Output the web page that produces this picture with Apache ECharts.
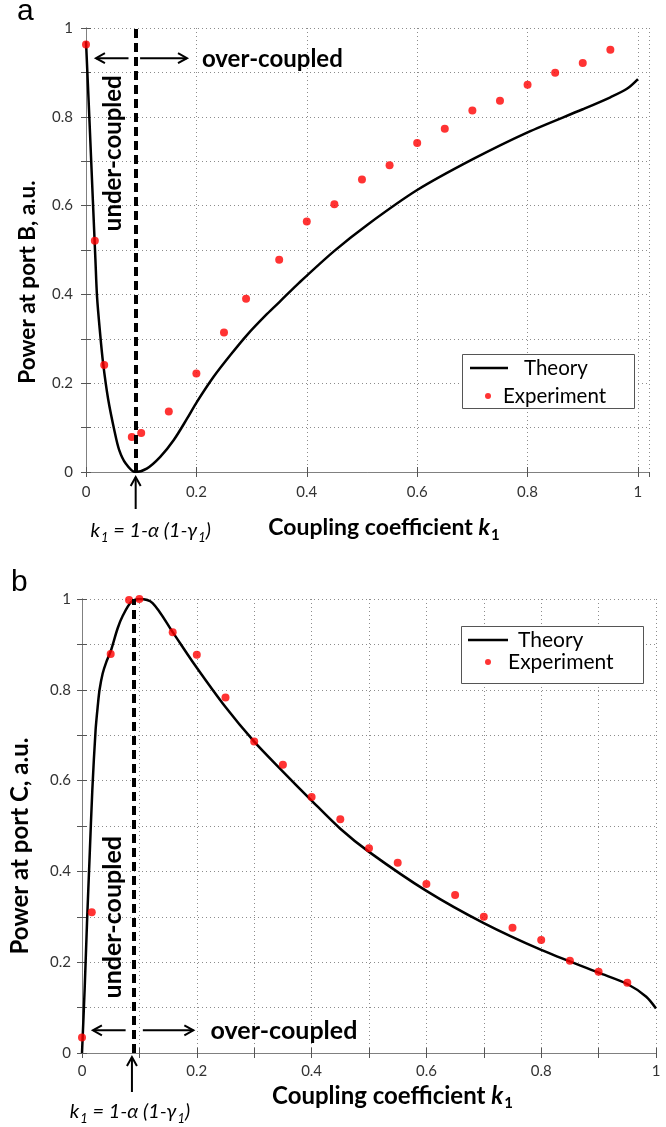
<!DOCTYPE html>
<html>
<head>
<meta charset="utf-8">
<script src="https://cdn.jsdelivr.net/npm/echarts@6/dist/echarts.min.js"></script>
<style>
  html, body { margin: 0; padding: 0; background: #fff; }
  #chart { width: 666px; height: 1127px; }
</style>
</head>
<body>
<div id="chart"></div>
<script>
// panel a: power at port B
const kTheoryA = [0, 0.006, 0.0125, 0.017, 0.02, 0.025, 0.031, 0.04, 0.052, 0.06, 0.072, 0.089, 0.11, 0.1345, 0.159, 0.183, 0.201, 0.2315, 0.262, 0.292, 0.328, 0.353, 0.386, 0.45, 0.51, 0.6, 0.7, 0.8, 0.9, 0.95, 0.98, 1]
const pTheoryA = [0.97, 0.8, 0.61, 0.48, 0.395, 0.32, 0.245, 0.165, 0.09, 0.05, 0.019, 0, 0.0075, 0.034, 0.072, 0.12, 0.158, 0.215, 0.264, 0.309, 0.356, 0.386, 0.426, 0.498, 0.557, 0.635, 0.704, 0.765, 0.817, 0.844, 0.863, 0.885]
const kExpA = [0, 0.016, 0.033, 0.083, 0.1, 0.15, 0.2, 0.25, 0.29, 0.35, 0.4, 0.45, 0.5, 0.55, 0.6, 0.65, 0.7, 0.75, 0.8, 0.85, 0.9, 0.95]
const pExpA = [0.963, 0.521, 0.241, 0.079, 0.088, 0.136, 0.222, 0.314, 0.39, 0.478, 0.564, 0.603, 0.659, 0.691, 0.741, 0.773, 0.814, 0.836, 0.872, 0.899, 0.921, 0.951]

// panel b: power at port C
const kTheoryB = [0, 0.0046, 0.0087, 0.0133, 0.018, 0.0237, 0.0275, 0.0306, 0.036, 0.042, 0.05, 0.062, 0.071, 0.0855, 0.1, 0.123, 0.158, 0.192, 0.25, 0.3, 0.35, 0.4, 0.45, 0.5, 0.6, 0.7, 0.8, 0.9, 0.95, 0.983, 1]
const pTheoryB = [0, 0.14, 0.286, 0.433, 0.58, 0.712, 0.765, 0.8, 0.836, 0.86, 0.885, 0.935, 0.963, 0.993, 1, 0.991, 0.927, 0.863, 0.762, 0.686, 0.62, 0.556, 0.494, 0.443, 0.357, 0.286, 0.227, 0.177, 0.152, 0.124, 0.098]
const kExpB = [0, 0.017, 0.05, 0.082, 0.1, 0.158, 0.2, 0.25, 0.3, 0.35, 0.4, 0.45, 0.5, 0.55, 0.6, 0.65, 0.7, 0.75, 0.8, 0.85, 0.9, 0.95]
const pExpB = [0.034, 0.31, 0.879, 0.998, 1, 0.927, 0.877, 0.783, 0.686, 0.635, 0.564, 0.515, 0.451, 0.419, 0.372, 0.348, 0.3, 0.276, 0.249, 0.203, 0.179, 0.155]

// critical coupling k1 = 1-a(1-g1)
const kCritA = 0.09
const kCritB = 0.087

const seriesNames = ['Theory', 'Experiment']
const panelLabels = ['a', 'b']
const yNames = ['Power at port B, a.u.', 'Power at port C, a.u.']

const pairs = (xs, ys) => xs.map((x, i) => [x, ys[i]])

const FONT = 'Lato, "Open Sans", sans-serif'
const dotted = { type: [1, 3], color: '#8c8c8c', width: 1 }
const axisLine = { show: true, lineStyle: { color: '#808080', width: 1 } }
const tickStyle = { color: '#555', width: 1 }

function xAxisPair(gridIndex, max, minor, labelMargin, nameGap, namePad, fontSize) {
  const base = {
    type: 'value', gridIndex, min: 0, max, interval: 0.2,
    axisLine,
    axisTick: { show: true, inside: true, length: 5, lineStyle: tickStyle },
    minorTick: { show: minor, splitNumber: 2, length: 5, lineStyle: tickStyle }
  }
  return [
    Object.assign({}, base, {
      position: 'bottom',
      axisLabel: { margin: labelMargin, fontSize: 15, color: '#333', fontFamily: FONT, showMaxLabel: max === 1 },
      splitLine: { show: true, lineStyle: dotted },
      minorSplitLine: { show: minor, lineStyle: dotted },
      name: '{b|Coupling coefficient }{k|k}{s|1}',
      nameLocation: 'middle',
      nameGap,
      nameTextStyle: {
        padding: [0, 0, 0, namePad],
        rich: {
          b: { fontFamily: FONT, fontWeight: 'bold', fontSize, color: '#000', lineHeight: 26 },
          k: { fontFamily: FONT, fontWeight: 'bold', fontStyle: 'italic', fontSize, color: '#000', lineHeight: 26 },
          s: { fontFamily: FONT, fontWeight: 'bold', fontSize: 15, color: '#000', lineHeight: 15, padding: [14, 0, 0, 1] }
        }
      }
    }),
    Object.assign({}, base, {
      position: 'top',
      axisLabel: { show: false },
      splitLine: { show: false }
    })
  ]
}

function yAxisPair(gridIndex, name, labelMargin, nameGap, namePad, fontSize) {
  const base = {
    type: 'value', gridIndex, min: 0, max: 1, interval: 0.2,
    axisLine,
    axisTick: { show: true, inside: true, length: 5, lineStyle: tickStyle },
    minorTick: { show: true, splitNumber: 2, length: 5, lineStyle: tickStyle }
  }
  return [
    Object.assign({}, base, {
      position: 'left',
      axisLabel: { margin: labelMargin, fontSize: 15, color: '#333', fontFamily: FONT },
      splitLine: { show: true, lineStyle: dotted },
      minorSplitLine: { show: true, lineStyle: dotted },
      name,
      nameLocation: 'middle',
      nameGap,
      nameTextStyle: { fontFamily: FONT, fontWeight: 'bold', fontSize, color: '#000', padding: [0, namePad, 0, 0] }
    }),
    Object.assign({}, base, {
      position: 'right',
      axisLabel: { show: false },
      splitLine: { show: false }
    })
  ]
}

function theorySeries(i, ks, ps, kCrit) {
  return {
    name: seriesNames[0], type: 'line', xAxisIndex: i * 2, yAxisIndex: i * 2,
    data: pairs(ks, ps), symbol: 'none', smooth: 0.3,
    lineStyle: { color: '#000', width: 2.5 }, itemStyle: { color: '#000' }, z: 3,
    markLine: {
      silent: true, symbol: 'none', label: { show: false },
      lineStyle: { color: '#000', width: 4, type: [9, 5] },
      data: [{ xAxis: kCrit }]
    }
  }
}

function expSeries(i, ks, ps) {
  return {
    name: seriesNames[1], type: 'scatter', xAxisIndex: i * 2, yAxisIndex: i * 2,
    data: pairs(ks, ps), symbol: 'circle', symbolSize: 8,
    itemStyle: { color: '#ff0000' }, z: 4
  }
}

function legends(lineLeft, lineWidth, lineTop, lineTextPad, dotLeft, dotTop, dotTextPad, fontSize) {
  const common = { orient: 'vertical', padding: 0, z: 20, itemGap: 0,
    textStyle: { fontFamily: FONT, fontSize, color: '#000', lineHeight: 24 } }
  return [
    Object.assign({}, common, {
      left: lineLeft, top: lineTop, itemWidth: lineWidth, itemHeight: 2.5, icon: 'rect',
      data: [{ name: seriesNames[0] }],
      textStyle: Object.assign({}, common.textStyle, { padding: [0, 0, 0, lineTextPad] })
    }),
    Object.assign({}, common, {
      left: dotLeft, top: dotTop, itemWidth: 6, itemHeight: 6, icon: 'circle',
      data: [{ name: seriesNames[1] }],
      textStyle: Object.assign({}, common.textStyle, { padding: [0, 0, 0, dotTextPad] })
    })
  ]
}

const xa = xAxisPair(0, 1.02, false, 13, 43, 33, 23)
const xb = xAxisPair(1, 1, true, 11, 30, 47, 24)
const ya = yAxisPair(0, yNames[0], 13, 47, 64, 22.5)
const yb = yAxisPair(1, yNames[1], 11, 50, 40, 24)

const option = {
  animation: false,
  backgroundColor: '#fff',
  grid: [
    { left: 86, top: 28, width: 563, height: 444 },
    { left: 79, top: 599, width: 577, height: 454 }
  ],
  xAxis: [xa[0], xa[1], xb[0], xb[1]],
  yAxis: [ya[0], ya[1], yb[0], yb[1]],
  legend: [].concat(
    legends(470, 38, 356, 11, 485, 384, 7, 20.5),
    legends(468, 40, 628, 5, 485, 650, 12, 21)
  ),
  series: [
    theorySeries(0, kTheoryA, pTheoryA, kCritA),
    expSeries(0, kExpA, pExpA),
    theorySeries(1, kTheoryB, pTheoryB, kCritB),
    expSeries(1, kExpB, pExpB)
  ]
}

const chart = echarts.init(document.getElementById('chart'))
chart.setOption(option)

// annotations, placed from data coordinates
function arrowEls(from, to) {
  const dx = to[0] - from[0], dy = to[1] - from[1]
  const len = Math.hypot(dx, dy), ux = dx / len, uy = dy / len
  const hl = 9, hw = 5
  const bx = to[0] - ux * hl, by = to[1] - uy * hl
  return [
    { type: 'line', z: 30, shape: { x1: from[0], y1: from[1], x2: to[0], y2: to[1] }, style: { stroke: '#000', lineWidth: 2 } },
    { type: 'polyline', z: 30, shape: { points: [[bx - uy * hw, by + ux * hw], to, [bx + uy * hw, by - ux * hw]] }, style: { stroke: '#000', lineWidth: 2, fill: null } }
  ]
}

function px(i, k, p) {
  return chart.convertToPixel({ xAxisIndex: i * 2, yAxisIndex: i * 2 }, [k, p])
}

const kLabelRich = {
  i: { fontFamily: FONT, fontStyle: 'italic', fontSize: 20, color: '#222', lineHeight: 24 },
  s: { fontFamily: FONT, fontStyle: 'italic', fontSize: 13, color: '#222', lineHeight: 13, padding: [13, 0, 0, 1] }
}
const kLabelText = '{i|k}{s|1}{i| = 1-α (1-γ}{s|1}{i|)}'

function annotations(i, kCrit, arrowY, leftArrow, rightArrow, overK, underK, underP, fontSize, upArrow, kLabelDx, kLabelY, panelX) {
  const grid = option.grid[i]
  const crit = px(i, kCrit, 0)
  const a1 = px(i, leftArrow[1], arrowY), a0 = px(i, leftArrow[0], arrowY)
  const r0 = px(i, rightArrow[0], arrowY), r1 = px(i, rightArrow[1], arrowY)
  const over = px(i, overK, arrowY)
  const under = px(i, underK, underP)
  const axisY = grid.top + grid.height
  return [].concat(
    arrowEls(a1, a0),
    arrowEls(r0, r1),
    arrowEls([crit[0], axisY + upArrow[1]], [crit[0], axisY + upArrow[0]]),
    [
      { type: 'text', z: 30, x: over[0], y: over[1] + 1,
        style: { text: 'over-coupled', font: 'bold ' + fontSize + 'px ' + FONT, fill: '#000', align: 'left', verticalAlign: 'middle' } },
      { type: 'text', z: 30, x: under[0], y: under[1], rotation: Math.PI / 2,
        style: { text: 'under-coupled', font: 'bold ' + fontSize + 'px ' + FONT, fill: '#000', align: 'center', verticalAlign: 'middle' } },
      { type: 'text', z: 30, x: crit[0] + kLabelDx, y: kLabelY,
        style: { text: kLabelText, rich: kLabelRich, align: 'center', verticalAlign: 'middle' } },
      { type: 'text', z: 30, x: panelX, y: grid.top - 16,
        style: { text: panelLabels[i], font: '30px "Liberation Sans", Arial, sans-serif', fill: '#000', align: 'left', verticalAlign: 'middle' } }
    ]
  )
}

const graphic = [
  { type: 'rect', z: 15, shape: { x: 462.5, y: 354.5, width: 172, height: 54 }, style: { fill: '#fff', stroke: '#555', lineWidth: 1 } },
  { type: 'rect', z: 15, shape: { x: 461.5, y: 626.5, width: 182, height: 57 }, style: { fill: '#fff', stroke: '#555', lineWidth: 1 } }
].concat(
  annotations(0, kCritA, 0.932, [0.018, 0.077], [0.098, 0.183], 0.21, 0.049, 0.718, 24, [5, 37], 15, 531, 17),
  annotations(1, kCritB, 0.05, [0.019, 0.076], [0.106, 0.194], 0.224, 0.054, 0.299, 25, [4, 39], -2, 1112, 11)
)

chart.setOption({ graphic })
</script>
</body>
</html>
